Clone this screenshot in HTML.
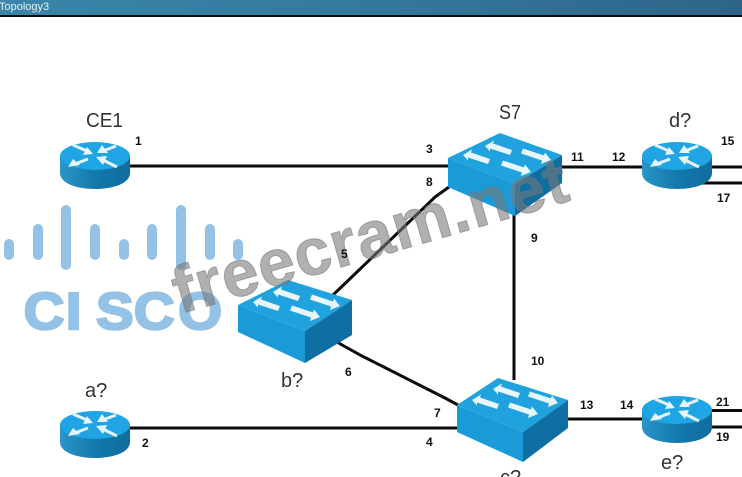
<!DOCTYPE html>
<html><head><meta charset="utf-8"><style>
html,body{margin:0;padding:0;background:#fff;width:742px;height:477px;overflow:hidden}
svg{display:block}
.n{font:bold 12px "Liberation Sans",sans-serif;fill:#111}
.l{font:20px "Liberation Sans",sans-serif;fill:#333}
</style></head><body>
<svg width="742" height="477" viewBox="0 0 742 477" xmlns="http://www.w3.org/2000/svg">
<defs>
<linearGradient id="bar" x1="0" x2="1" y1="0" y2="0"><stop offset="0" stop-color="#3a86a8"/><stop offset=".5" stop-color="#34799c"/><stop offset="1" stop-color="#2f6488"/></linearGradient>
<linearGradient id="rs" x1="0" x2="1" y1="0" y2="0"><stop offset="0" stop-color="#2a95c9"/><stop offset=".5" stop-color="#1479ac"/><stop offset="1" stop-color="#0f6c9e"/></linearGradient>
<g id="r">
<path d="M0 14V31C0 41 16 47 35 47S70 41 70 31V14Z" fill="url(#rs)"/>
<ellipse cx="35" cy="14" rx="35" ry="14" fill="#1fa5e3"/>
<g stroke="#e6f5fc" stroke-width="3" fill="#e6f5fc">
<path d="M13 3L27 9"/><path d="M33 12L23 13L27 5Z" stroke="none"/>
<path d="M56 4L43 9"/><path d="M37 11L42 3L48 11Z" stroke="none"/>
<path d="M28 17L15 22"/><path d="M8 25L13 17L20 23Z" stroke="none"/>
<path d="M43 18L57 25"/><path d="M36 15L47 14L43 23Z" stroke="none"/>
</g>
</g>
<g id="arr" fill="#e8f6fc">
<path d="M0 0L9-5.500L8-2.500L27 4L25 9L5 2.500L5 5.500Z"/>
</g>
<g id="arl" fill="#e8f6fc">
<path d="M30 8L20 12L21 8.500L0 1.500L2-3.500L23 3.500L24 .5Z"/>
</g>
</defs>

<rect width="742" height="15" fill="url(#bar)"/>
<rect y="15" width="742" height="2" fill="#0c0f12"/>
<text x="-1" y="10" font-family="Liberation Sans,sans-serif" font-size="11" fill="#e6eef2">Topology3</text>

<!-- cisco -->
<g fill="#94c2e6">
<rect x="4" y="239" width="10" height="21" rx="5"/>
<rect x="33" y="224" width="10" height="36" rx="5"/>
<rect x="61" y="205" width="10" height="65" rx="5"/>
<rect x="90" y="224" width="10" height="36" rx="5"/>
<rect x="119" y="239" width="10" height="21" rx="5"/>
<rect x="147" y="224" width="10" height="36" rx="5"/>
<rect x="176" y="205" width="10" height="65" rx="5"/>
<rect x="205" y="224" width="10" height="36" rx="5"/>
<rect x="233" y="239" width="10" height="21" rx="5"/>
<text transform="translate(0 329) scale(1.080 1)" x="22 61 89 124 165" y="0" font-family="Liberation Sans,sans-serif" font-weight="bold" font-size="52" stroke="#94c2e6" stroke-width="2.500">CISCO</text>
</g>

<!-- links -->
<g stroke="#0a0a0a" stroke-width="3" fill="none">
<path d="M128 166H450"/>
<path d="M560 167H644"/>
<path d="M710 167H742"/>
<path d="M702 183H742"/>
<path d="M514 214V380"/>
<path d="M449 187L435 197L332 296"/>
<path d="M335 341L362 356L445 398L458 405"/>
<path d="M129 428H458"/>
<path d="M566 419H644"/>
<path d="M710 410.500H742"/>
<path d="M710 427H742"/>
</g>

<!-- routers -->
<use href="#r" x="60" y="142"/>
<use href="#r" x="642" y="142"/>
<use href="#r" x="642" y="396"/>
<use href="#r" x="60" y="411"/>

<!-- S7 -->
<g>
<path d="M448 158L515 184V216L448 187Z" fill="#1a9bd8"/>
<path d="M515 184L562 155V183L515 216Z" fill="#0f6fa3"/>
<path d="M500 133L562 155L515 184L448 158Z" fill="#1fa2dd"/>
<use href="#arr" x="463" y="155"/><use href="#arr" x="485" y="146"/>
<use href="#arl" x="501" y="164"/><use href="#arl" x="521" y="152"/>
</g>
<!-- b -->
<g>
<path d="M238 305L305 331V363L238 332Z" fill="#1a9bd8"/>
<path d="M305 331L352 300V335L305 363Z" fill="#0f6fa3"/>
<path d="M288 280L352 300L305 331L238 305Z" fill="#1fa2dd"/>
<use href="#arr" x="253" y="302"/><use href="#arr" x="273" y="292"/>
<use href="#arl" x="290" y="309"/><use href="#arl" x="310" y="298"/>
</g>
<!-- c -->
<g>
<path d="M457 405L523 432V462L457 432Z" fill="#1a9bd8"/>
<path d="M523 432L568 400V428L523 462Z" fill="#0f6fa3"/>
<path d="M498 378L568 400L523 432L457 405Z" fill="#1fa2dd"/>
<use href="#arr" x="472" y="400"/><use href="#arr" x="493" y="389"/>
<use href="#arl" x="508" y="406"/><use href="#arl" x="528" y="395"/>
</g>

<!-- watermark -->
<text transform="translate(180 314) rotate(-16.200)" font-family="Liberation Sans,sans-serif" font-weight="bold" font-size="66" fill="#777" fill-opacity=".58" stroke="#777" stroke-opacity=".58" stroke-width="1" textLength="408" lengthAdjust="spacing">freecram.net</text>

<!-- labels -->
<text class="l" x="86" y="127" textLength="37" lengthAdjust="spacingAndGlyphs">CE1</text>
<text class="l" x="499" y="119" textLength="22" lengthAdjust="spacingAndGlyphs">S7</text>
<text class="l" x="669" y="127">d?</text>
<text class="l" x="85" y="397">a?</text>
<text class="l" x="281" y="387">b?</text>
<text class="l" x="661" y="469">e?</text>
<text class="l" x="500" y="484">c?</text>

<text class="n" x="135" y="145">1</text>
<text class="n" x="142" y="447">2</text>
<text class="n" x="426" y="153">3</text>
<text class="n" x="426" y="446">4</text>
<text class="n" x="341" y="258">5</text>
<text class="n" x="345" y="376">6</text>
<text class="n" x="434" y="417">7</text>
<text class="n" x="426" y="186">8</text>
<text class="n" x="531" y="242">9</text>
<text class="n" x="531" y="365">10</text>
<text class="n" x="571" y="161">11</text>
<text class="n" x="612" y="161">12</text>
<text class="n" x="580" y="409">13</text>
<text class="n" x="620" y="409">14</text>
<text class="n" x="721" y="145">15</text>
<text class="n" x="717" y="202">17</text>
<text class="n" x="716" y="441">19</text>
<text class="n" x="716" y="406">21</text>
</svg>
</body></html>
